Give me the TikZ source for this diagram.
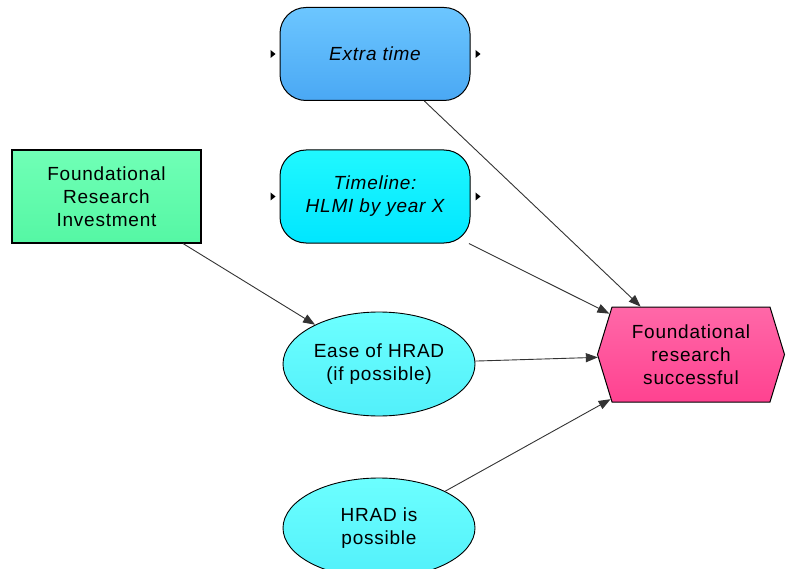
\documentclass[tikz,border=0pt]{standalone}
\usepackage{fontspec}
\setmainfont{Liberation Sans}[LetterSpace=4]
\usetikzlibrary{shapes.geometric,shapes.symbols,arrows.meta}
\definecolor{extratop}{HTML}{6CC6FF}
\definecolor{extrabot}{HTML}{4AA8F4}
\definecolor{cyantop}{HTML}{20F8FF}
\definecolor{cyanbot}{HTML}{00E6FF}
\definecolor{greentop}{HTML}{70FFB6}
\definecolor{greenbot}{HTML}{55F7A4}
\definecolor{ovaltop}{HTML}{6CFFFF}
\definecolor{ovalbot}{HTML}{52F0FA}
\definecolor{pinktop}{HTML}{FF68A8}
\definecolor{pinkbot}{HTML}{FF4290}

\begin{document}
\begin{tikzpicture}[x=1pt,y=-1pt,
  lbl/.style={font=\fontsize{19}{23}\selectfont,align=center,text=black},
  chance/.style={lbl,draw=black,line width=1pt,rounded corners=26pt,
    minimum width=190pt,minimum height=93pt,font=\fontsize{19}{23}\selectfont\itshape},
  decision/.style={lbl,draw=black,line width=1.1pt,minimum width=189pt,minimum height=93pt},
  oval/.style={lbl,ellipse,draw=black,line width=0.9pt,minimum width=192pt,minimum height=104pt,
    top color=ovaltop,bottom color=ovalbot,inner sep=0pt},
  goal/.style={lbl,signal,signal to=west and east,signal pointer angle=146,draw=black,
    line width=1pt,minimum width=187pt,minimum height=95pt,top color=pinktop,bottom color=pinkbot},
  link/.style={draw=black!80,line width=0.9pt,-{Triangle[length=12pt,width=9pt]}},
  pin/.style={fill=black}]
  \useasboundingbox (0,0) rectangle (786,569);

  % nodes
  \node[chance,top color=extratop,bottom color=extrabot] (extra) at (375,54) {Extra time};
  \node[chance,top color=cyantop,bottom color=cyanbot] (timeline) at (375,196.5) {Timeline:\\HLMI by year X};
  \node[decision,top color=greentop,bottom color=greenbot] (invest) at (106.5,196.5) {Foundational\\Research\\Investment};
  \node[oval] (ease) at (379,364) {Ease of HRAD\\(if possible)};
  \node[oval,minimum height=100pt] (possible) at (379,528) {HRAD is\\possible};
  \node[goal] (success) at (691,354.5) {Foundational\\research\\successful};

  % little port marks
  \fill[pin] ([xshift=-9pt,yshift=4pt]extra.west) -- ++(5,4) -- ++(-5,4) -- cycle;
  \fill[pin] ([xshift=5pt,yshift=4pt]extra.east) -- ++(5,4) -- ++(-5,4) -- cycle;
  \fill[pin] ([xshift=-9pt,yshift=4pt]timeline.west) -- ++(5,4) -- ++(-5,4) -- cycle;
  \fill[pin] ([xshift=5pt,yshift=4pt]timeline.east) -- ++(5,4) -- ++(-5,4) -- cycle;

  % influences
  \draw[link] (extra) -- (success);
  \draw[link] (timeline) -- (success);
  \draw[link] (invest) -- (ease);
  \draw[link] (ease) -- (success);
  \draw[link] (possible) -- (success);
\end{tikzpicture}
\end{document}
